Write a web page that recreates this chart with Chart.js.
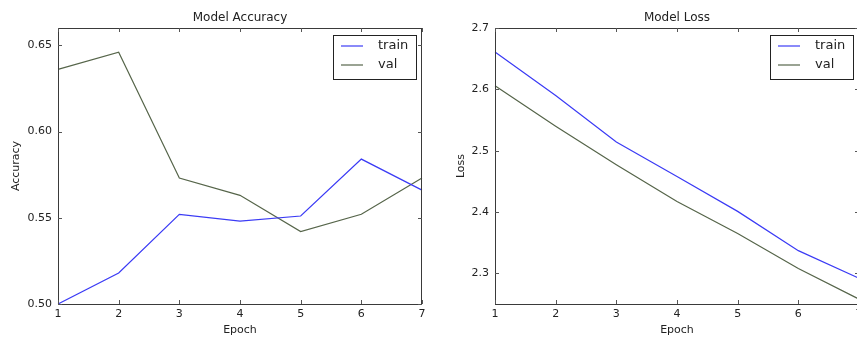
<!DOCTYPE html>
<html>
<head>
<meta charset="utf-8">
<script src="https://cdn.jsdelivr.net/npm/chart.js@4"></script>
<style>
  html, body { margin: 0; padding: 0; background: #fff; width: 857px; height: 337px; overflow: hidden; }
  #wrap { position: relative; width: 857px; height: 337px; overflow: hidden; }
  #c1 { position: absolute; left: 0; top: 0; }
  #c2 { position: absolute; left: 430px; top: 0; }
</style>
</head>
<body>
<div id="wrap">
  <canvas id="c1" width="430" height="337"></canvas>
  <canvas id="c2" width="437" height="337"></canvas>
</div>
<script>
const epochs = [1, 2, 3, 4, 5, 6, 7];
const accTrain = [0.500, 0.518, 0.552, 0.548, 0.551, 0.584, 0.566];
const accVal = [0.636, 0.646, 0.573, 0.563, 0.542, 0.552, 0.573];
const lossTrain = [2.661, 2.590, 2.514, 2.458, 2.401, 2.337, 2.292];
const lossVal = [2.606, 2.540, 2.477, 2.417, 2.365, 2.308, 2.258];
const accTicks = [0.50, 0.55, 0.60, 0.65];
const lossTicks = [2.3, 2.4, 2.5, 2.6, 2.7];
const seriesNames = ['train', 'val'];

const FONT = 'DejaVu Sans';
const TRAIN_COLOR = '#3b3bf5';
const VAL_COLOR = '#56654a';
const FRAME = '#3a3a3a';

const framePlugin = {
  id: 'frame',
  afterDraw(chart) {
    const ctx = chart.ctx;
    const a = chart.chartArea;
    ctx.save();
    ctx.strokeStyle = FRAME;
    ctx.lineWidth = 1;
    ctx.strokeRect(Math.round(a.left) + 0.5, Math.round(a.top) + 0.5,
                   Math.round(a.right - a.left) - 1, Math.round(a.bottom - a.top));
    // inward tick marks
    const xs = chart.scales.x, ys = chart.scales.y;
    ctx.strokeStyle = '#555';
    ctx.beginPath();
    xs.ticks.forEach((t, i) => {
      const px = Math.round(xs.getPixelForTick(i)) + 0.5;
      ctx.moveTo(px, a.bottom); ctx.lineTo(px, a.bottom - 4);
      ctx.moveTo(px, a.top); ctx.lineTo(px, a.top + 4);
    });
    ys.ticks.forEach(t => {
      const py = Math.round(ys.getPixelForValue(t.value)) + 0.5;
      ctx.moveTo(a.left, py); ctx.lineTo(a.left + 4, py);
      ctx.moveTo(a.right, py); ctx.lineTo(a.right - 4, py);
    });
    ctx.stroke();
    // legend box
    const w = 83, h = 44;
    const bx = a.right - 6 - w, by = a.top + 7;
    ctx.fillStyle = '#fff';
    ctx.fillRect(bx, by, w, h);
    ctx.strokeStyle = '#222';
    ctx.strokeRect(Math.round(bx) + 0.5, Math.round(by) + 0.5, w, h);
    ctx.font = '13px "' + FONT + '"';
    ctx.textBaseline = 'middle';
    ctx.textAlign = 'left';
    chart.data.datasets.forEach((ds, i) => {
      const ly = by + 11 + i * 19;
      ctx.strokeStyle = ds.borderColor;
      ctx.lineWidth = 1.2;
      ctx.beginPath();
      ctx.moveTo(bx + 8, ly); ctx.lineTo(bx + 30, ly);
      ctx.stroke();
      ctx.fillStyle = '#222';
      ctx.fillText(ds.label, bx + 45, ly);
    });
    // chart title centred over plot area
    ctx.font = '12px "' + FONT + '"';
    ctx.textAlign = 'center';
    ctx.fillStyle = '#222';
    ctx.fillText(chart.options.myTitle, (a.left + a.right) / 2, 18);
    ctx.restore();
  }
};

function makeChart(id, title, yLabel, train, val, yMin, yMax, yTicks, decimals, yWidth, yTitlePad) {
  return new Chart(document.getElementById(id), {
    type: 'line',
    data: {
      labels: epochs,
      datasets: [
        { label: seriesNames[0], data: train, borderColor: TRAIN_COLOR, borderWidth: 1.2, pointRadius: 0, tension: 0, fill: false },
        { label: seriesNames[1], data: val, borderColor: VAL_COLOR, borderWidth: 1.2, pointRadius: 0, tension: 0, fill: false }
      ]
    },
    options: {
      myTitle: title,
      responsive: false,
      animation: false,
      events: [],
      layout: { padding: { top: 28, right: 8, left: 0, bottom: 0 } },
      plugins: { legend: { display: false }, title: { display: false }, tooltip: { enabled: false } },
      scales: {
        x: {
          type: 'category',
          offset: false,
          grid: { display: false, drawTicks: false },
          border: { display: false },
          ticks: { color: '#222', font: { family: FONT, size: 11 }, padding: 4, maxRotation: 0, autoSkip: false },
          title: { display: true, text: 'Epoch', color: '#222', font: { family: FONT, size: 11 }, padding: { top: 0, bottom: 0 } },
          afterFit: s => { s.height = 33; }
        },
        y: {
          type: 'linear',
          min: yMin,
          max: yMax,
          grid: { display: false, drawTicks: false },
          border: { display: false },
          afterBuildTicks: s => { s.ticks = yTicks.map(v => ({ value: v })); },
          ticks: { color: '#222', font: { family: FONT, size: 11 }, padding: 6, callback: v => Number(v).toFixed(decimals) },
          title: { display: true, text: yLabel, color: '#222', font: { family: FONT, size: 11 }, padding: { top: yTitlePad, bottom: 0 } },
          afterFit: s => { s.width = yWidth; }
        }
      }
    },
    plugins: [framePlugin]
  });
}

makeChart('c1', 'Model Accuracy', 'Accuracy', accTrain, accVal, 0.50, 0.66, accTicks, 2, 58, 9.4);
makeChart('c2', 'Model Loss', 'Loss', lossTrain, lossVal, 2.25, 2.70, lossTicks, 1, 65, 25);
</script>
</body>
</html>
